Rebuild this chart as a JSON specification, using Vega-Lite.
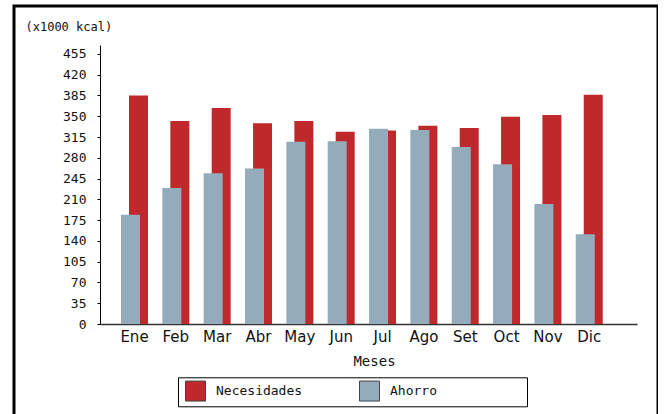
{
  "$schema": "https://vega.github.io/schema/vega-lite/v6.json",
  "autosize": "none",
  "padding": {"left": 14, "top": 6, "right": 0, "bottom": 0},
  "width": 644,
  "height": 420,
  "background": "white",
  "view": {"stroke": "#000", "strokeWidth": 3, "fill": "white"},
  "data": {"values": [
    {"mes": "Ene", "serie": "Necesidades", "valor": 385}, {"mes": "Ene", "serie": "Ahorro", "valor": 184},
    {"mes": "Feb", "serie": "Necesidades", "valor": 342}, {"mes": "Feb", "serie": "Ahorro", "valor": 229},
    {"mes": "Mar", "serie": "Necesidades", "valor": 364}, {"mes": "Mar", "serie": "Ahorro", "valor": 254},
    {"mes": "Abr", "serie": "Necesidades", "valor": 338}, {"mes": "Abr", "serie": "Ahorro", "valor": 262},
    {"mes": "May", "serie": "Necesidades", "valor": 342}, {"mes": "May", "serie": "Ahorro", "valor": 307},
    {"mes": "Jun", "serie": "Necesidades", "valor": 324}, {"mes": "Jun", "serie": "Ahorro", "valor": 308},
    {"mes": "Jul", "serie": "Necesidades", "valor": 326}, {"mes": "Jul", "serie": "Ahorro", "valor": 329},
    {"mes": "Ago", "serie": "Necesidades", "valor": 334}, {"mes": "Ago", "serie": "Ahorro", "valor": 327},
    {"mes": "Set", "serie": "Necesidades", "valor": 330}, {"mes": "Set", "serie": "Ahorro", "valor": 298},
    {"mes": "Oct", "serie": "Necesidades", "valor": 349}, {"mes": "Oct", "serie": "Ahorro", "valor": 269},
    {"mes": "Nov", "serie": "Necesidades", "valor": 352}, {"mes": "Nov", "serie": "Ahorro", "valor": 202},
    {"mes": "Dic", "serie": "Necesidades", "valor": 386}, {"mes": "Dic", "serie": "Ahorro", "valor": 151}
  ]},
  "encoding": {
    "x": {
      "field": "mes", "type": "nominal",
      "sort": ["Ene", "Feb", "Mar", "Abr", "May", "Jun", "Jul", "Ago", "Set", "Oct", "Nov", "Dic"],
      "scale": {"range": [86, 623], "paddingInner": 0, "paddingOuter": 0.495, "align": 0.338},
      "axis": {
        "title": "Meses", "titleFont": "DejaVu Sans Mono", "titleFontSize": 14, "titleFontWeight": "normal",
        "titleColor": "#111", "titleX": 360, "titleY": 41, "titleBaseline": "alphabetic", "titleAlign": "center",
        "offset": -102, "ticks": false, "tickSize": 0, "domainColor": "#333", "domainWidth": 1.5,
        "labelAngle": 0, "labelFont": "DejaVu Sans", "labelFontSize": 15, "labelColor": "#111", "labelPadding": 5.5
      }
    },
    "y": {
      "field": "valor", "type": "quantitative",
      "scale": {"domain": [0, 470], "range": [318, 39], "nice": false},
      "axis": {
        "title": "(x1000 kcal)", "titleAngle": 0, "titleAlign": "left", "titleBaseline": "alphabetic",
        "titleX": -75, "titleY": 24.5, "titleFont": "DejaVu Sans Mono", "titleFontSize": 12,
        "titleFontWeight": "normal", "titleColor": "#111",
        "values": [0, 35, 70, 105, 140, 175, 210, 245, 280, 315, 350, 385, 420, 455],
        "offset": -86, "grid": false, "tickSize": 3, "tickColor": "#000", "domainColor": "#000",
        "labelFont": "DejaVu Sans Mono", "labelFontSize": 13, "labelColor": "#111", "labelPadding": 11
      }
    },
    "color": {
      "field": "serie", "type": "nominal",
      "scale": {"domain": ["Necesidades", "Ahorro"], "range": ["#c0292c", "#94abbc"]},
      "legend": {
        "title": null, "orient": "none", "legendX": 164, "legendY": 371.3, "direction": "horizontal",
        "columns": 2, "symbolType": "square", "symbolSize": 400, "symbolStrokeColor": "#444",
        "symbolStrokeWidth": 1, "symbolOffset": 4, "labelFont": "DejaVu Sans Mono", "labelFontSize": 13,
        "labelColor": "#111", "labelOffset": 10, "columnPadding": 52, "padding": 3, "strokeColor": "#000",
        "labelLimit": 400,
        "labelExpr": "datum.label == 'Ahorro' ? 'Ahorro\u00a0\u00a0\u00a0\u00a0\u00a0\u00a0\u00a0\u00a0\u00a0\u00a0\u00a0\u200b' : datum.label"
      }
    }
  },
  "layer": [
    {"transform": [{"filter": "datum.serie == 'Necesidades'"}], "mark": {"type": "bar", "width": 19, "xOffset": 4}},
    {"transform": [{"filter": "datum.serie == 'Ahorro'"}], "mark": {"type": "bar", "width": 19, "xOffset": -4}}
  ]
}
